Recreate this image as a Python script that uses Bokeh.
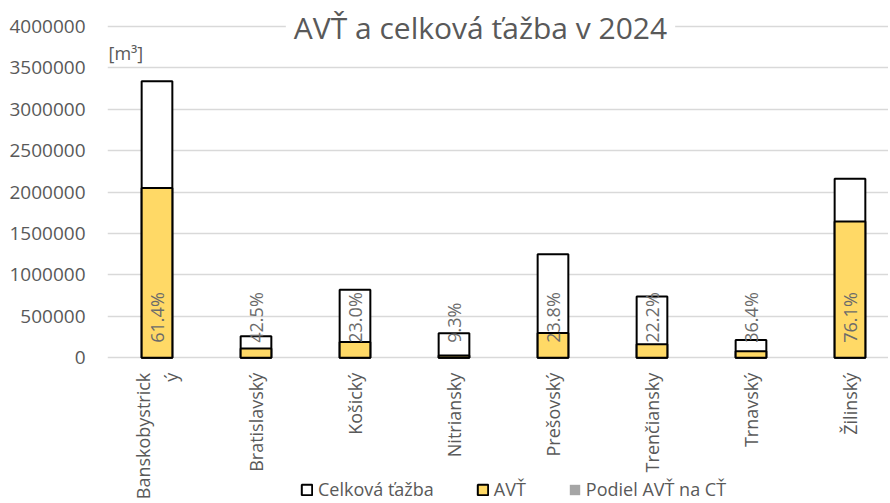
from math import pi
from bokeh.plotting import figure
from bokeh.models import (ColumnDataSource, Range1d, FixedTicker, BasicTickFormatter,
                          Label, Legend, LegendItem)
from bokeh.embed import file_html
from bokeh.resources import INLINE
from bokeh.core.properties import value

# ---- data ----
regions = ["Banskobystrický", "Bratislavský", "Košický", "Nitriansky",
           "Prešovský", "Trenčiansky", "Trnavský", "Žilinský"]
tick_labels = ["Banskobystrick\ný", "Bratislavský", "Košický", "Nitriansky",
               "Prešovský", "Trenčiansky", "Trnavský", "Žilinský"]
celkova_tazba = [3340000, 258000, 820000, 294000, 1250000, 740000, 215000, 2160000]
avt = [2050000, 110000, 188600, 27300, 297500, 164000, 78000, 1644000]
podiel = [0.614, 0.425, 0.230, 0.093, 0.238, 0.222, 0.364, 0.761]
y_ticks = [0, 500000, 1000000, 1500000, 2000000, 2500000, 3000000, 3500000, 4000000]

FONT = value("Open Sans")
GRAY = "#595959"

xs = list(range(len(regions)))
src = ColumnDataSource(dict(
    x=xs, region=regions, label=tick_labels, base=[0] * len(regions),
    celkova=celkova_tazba, avt=avt, podiel=podiel,
    pct=[f"{v * 100:.1f}%" for v in podiel],
))

# frame covers the plotting area plus the category-label / legend strip below it
p = figure(frame_width=781, frame_height=491, min_border_left=107, min_border_right=0,
           min_border_top=10, min_border_bottom=0,
           x_range=Range1d(-0.5, 7.389), y_range=Range1d(-1736560, 4193350),
           x_axis_type=None, output_backend="svg", toolbar_location=None)

r_cel = p.vbar(x="x", top="celkova", width=0.31, source=src,
               fill_color="white", line_color="black", line_width=2)
r_avt = p.vbar(x="x", top="avt", width=0.31, source=src,
               fill_color="#FFD966", line_color="black", line_width=2)
r_pod = p.vbar(x="x", top="podiel", width=0.31, source=src,
               fill_color="#A5A5A5", line_color=None)

# data labels (Podiel AVŤ na CŤ)
p.text(x="x", y="podiel", text="pct", source=src, angle=pi / 2,
       text_align="left", text_baseline="middle", y_offset=-15,
       text_font=FONT, text_font_size="18px", text_color="#6b6b6b")

# category labels under the zero line
p.text(x="x", y="base", text="label", source=src, angle=pi / 2,
       text_align="right", text_baseline="middle", y_offset=15,
       text_font=FONT, text_font_size="18px", text_color=GRAY)

# y axis
p.yaxis.ticker = FixedTicker(ticks=y_ticks)
p.yaxis.formatter = BasicTickFormatter(use_scientific=False)
p.yaxis.axis_line_color = None
p.yaxis.major_tick_line_color = None
p.yaxis.minor_tick_line_color = None
p.yaxis.major_tick_out = 0
p.yaxis.major_label_standoff = 22
p.yaxis.major_label_text_font = "Open Sans"
p.yaxis.major_label_text_font_size = "19px"
p.yaxis.major_label_text_color = GRAY

p.xgrid.visible = False
p.ygrid.grid_line_color = "#d9d9d9"
p.ygrid.grid_line_width = 1.3
p.outline_line_color = None

# title and unit
p.add_layout(Label(x=373, y=474, x_units="screen", y_units="screen",
                   text="AVŤ a celková ťažba v 2024", text_align="center",
                   text_baseline="middle", text_font="Open Sans", text_font_size="30px",
                   text_color=GRAY, background_fill_color="white", padding=8))
p.add_layout(Label(x=1, y=449, x_units="screen", y_units="screen",
                   text="[m³]", text_align="left", text_baseline="middle",
                   text_font="Open Sans", text_font_size="18px", text_color=GRAY))

legend = Legend(items=[LegendItem(label="Celková ťažba", renderers=[r_cel]),
                       LegendItem(label="AVŤ", renderers=[r_avt]),
                       LegendItem(label="Podiel AVŤ na CŤ", renderers=[r_pod])],
                location=(193, 0), orientation="horizontal",
                glyph_width=13, glyph_height=13, label_standoff=5, spacing=42,
                padding=0, margin=0, border_line_color=None, background_fill_alpha=0,
                label_text_font="Open Sans", label_text_font_size="18px",
                label_text_color=GRAY)
p.add_layout(legend, "center")

open("out.html", "w").write(file_html(p, INLINE))
